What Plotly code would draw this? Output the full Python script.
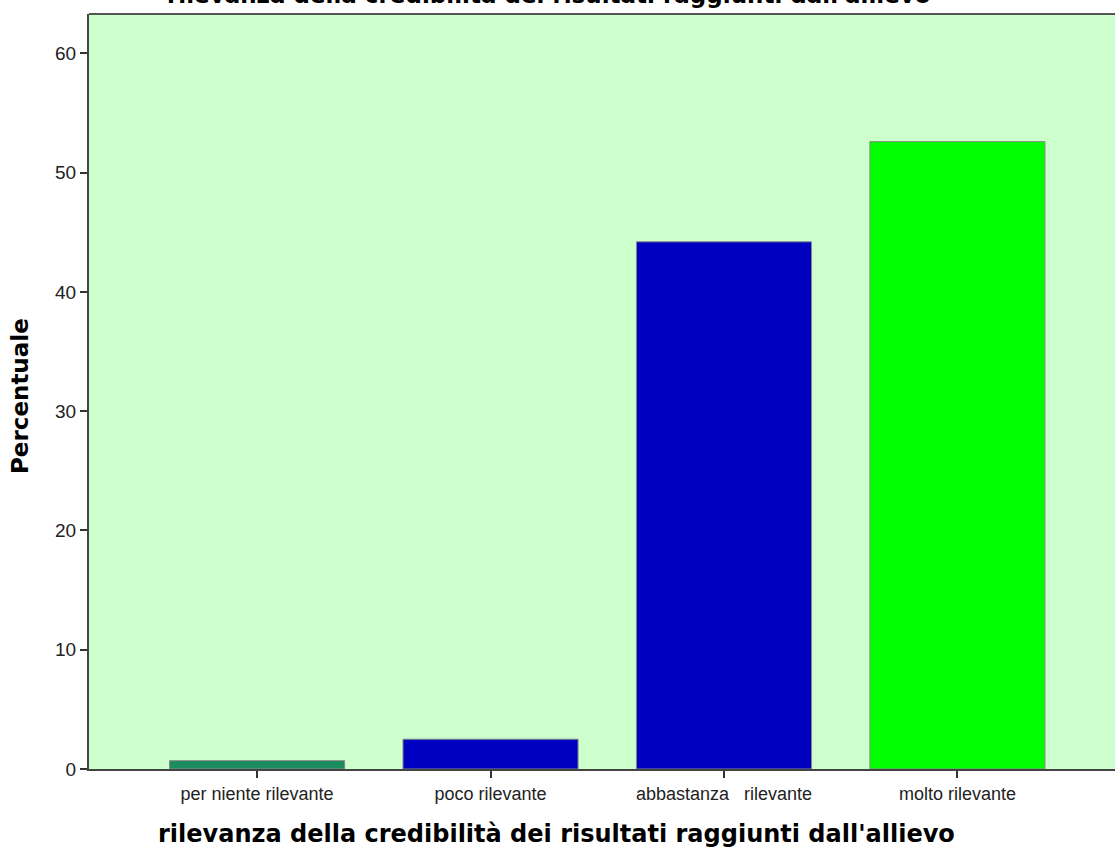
import plotly.graph_objects as go

categories = ["per niente rilevante", "poco rilevante", "abbastanza   rilevante", "molto rilevante"]
values = [0.7, 2.5, 44.2, 52.6]
bar_colors = ["#1a8c5e", "#0000c0", "#0000c0", "#00ff00"]
y_ticks = [0, 10, 20, 30, 40, 50, 60]
title_text = "rilevanza della credibilità dei risultati raggiunti dall'allievo"
x_title = "rilevanza della credibilità dei risultati raggiunti dall'allievo"
y_title = "Percentuale"

fig = go.Figure(go.Bar(
    x=list(range(len(categories))),
    y=values,
    width=0.75,
    marker=dict(color=bar_colors, line=dict(color="#8a8a8a", width=1)),
))

fig.update_layout(
    width=1115, height=852,
    margin=dict(l=89, r=0, t=14, b=83),
    paper_bgcolor="white",
    plot_bgcolor="#ccffcc",
    showlegend=False,
    font=dict(family="Liberation Sans", size=18, color="#222222"),
)

fig.update_xaxes(
    tickmode="array",
    tickvals=list(range(len(categories))),
    ticktext=categories,
    range=[-0.72, 3.675],
    showgrid=False, zeroline=False,
    showline=True, linecolor="#444444", linewidth=2,
    ticks="outside", ticklen=7, tickwidth=1.5, tickcolor="#333333",
    tickfont=dict(family="Liberation Sans", size=18, color="#222222"),
)

fig.update_yaxes(
    range=[0, 63.3],
    tickmode="array", tickvals=y_ticks,
    showgrid=False, zeroline=False,
    showline=True, linecolor="#444444", linewidth=2,
    ticks="outside", ticklen=7, tickwidth=1.5, tickcolor="#333333",
    tickfont=dict(family="Liberation Sans", size=19, color="#222222"),
)

# top border of the plot frame
fig.add_shape(type="line", xref="paper", yref="paper", x0=0, x1=1, y0=1, y1=1,
              line=dict(color="#555555", width=2))

# chart title (cropped at the top edge as in the reference)
fig.add_annotation(text="<b>" + title_text + "</b>", xref="paper", yref="paper",
                   x=0.448, y=1, xanchor="center", yanchor="middle", yshift=19,
                   showarrow=False,
                   font=dict(family="DejaVu Sans", size=23, color="black"))

# x-axis title
fig.add_annotation(text="<b>" + x_title + "</b>", xref="paper", yref="paper",
                   x=0.456, y=0, xanchor="center", yanchor="middle", yshift=-65,
                   showarrow=False,
                   font=dict(family="DejaVu Sans", size=24, color="black"))

# y-axis title
fig.add_annotation(text="<b>" + y_title + "</b>", xref="paper", yref="paper",
                   x=0, y=0.494, xanchor="center", yanchor="middle", xshift=-69,
                   textangle=-90, showarrow=False,
                   font=dict(family="DejaVu Sans", size=23, color="black"))

fig.write_html("out.html", config={"displayModeBar": False},
               post_script="document.body.style.margin='0px';")
